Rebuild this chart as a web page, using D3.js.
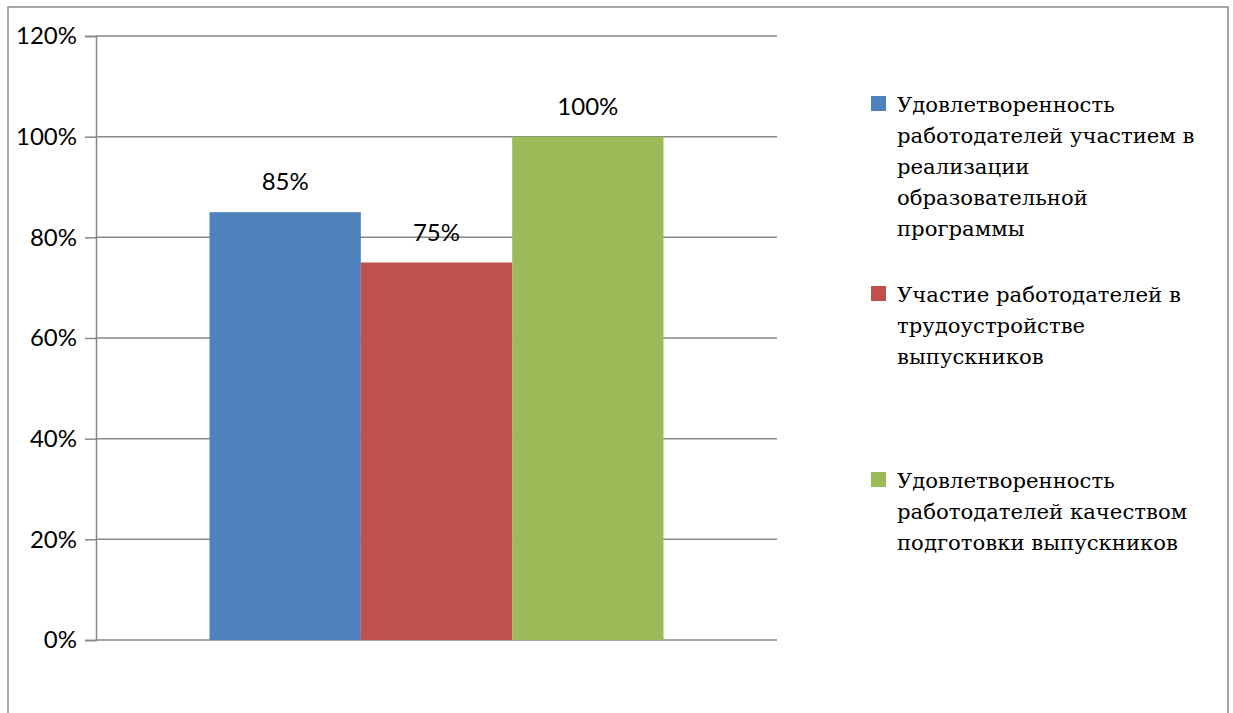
<!DOCTYPE html>
<html>
<head>
<meta charset="utf-8">
<script src="https://cdn.jsdelivr.net/npm/d3@7"></script>
<style>
  body { margin: 0; background: #fff; }
  svg { display: block; }
</style>
</head>
<body>
<svg width="1233" height="713"></svg>
<script>
  // data
  const seriesNames = [
    ['Удовлетворенность', 'работодателей участием в', 'реализации', 'образовательной', 'программы'],
    ['Участие работодателей в', 'трудоустройстве', 'выпускников'],
    ['Удовлетворенность', 'работодателей качеством', 'подготовки выпускников']
  ]
  const seriesValues = [0.85, 0.75, 1.00]
  const seriesColors = ['#4F81BD', '#C0504D', '#9BBB59']
  const yTicks = [0, 0.2, 0.4, 0.6, 0.8, 1.0, 1.2]

  const GRID = '#878787'
  const NUM_FONT = 'Lato, "Open Sans", sans-serif'
  const LEGEND_FONT = "'DejaVu Serif', 'Liberation Serif', serif"
  const svg = d3.select('svg')

  // outer frame
  svg.append('rect')
    .attr('x', 8).attr('y', 7)
    .attr('width', 1220).attr('height', 760)
    .attr('fill', 'none')
    .attr('stroke', '#8c8c8c')
    .attr('stroke-width', 1.5)

  const plot = { left: 96, right: 777, top: 36, bottom: 640 }

  const y = d3.scaleLinear().domain([0, 1.2]).range([plot.bottom, plot.top])
  const x0 = d3.scaleBand().domain(['']).range([plot.left, plot.right]).padding(0.2)
  const x1 = d3.scaleBand().domain(d3.range(seriesValues.length))
    .range([0, x0.bandwidth()]).padding(0)

  // gridlines
  svg.append('g').selectAll('line').data(yTicks).join('line')
    .attr('x1', plot.left).attr('x2', plot.right)
    .attr('y1', d => y(d)).attr('y2', d => y(d))
    .attr('stroke', GRID).attr('stroke-width', 1.5)

  // y axis
  const yAxis = svg.append('g')
    .attr('transform', `translate(${plot.left},0)`)
    .call(d3.axisLeft(y).tickValues(yTicks).tickFormat(d3.format('.0%')).tickSize(11).tickPadding(8))
  yAxis.select('.domain').attr('stroke', GRID).attr('stroke-width', 1.5)
  yAxis.selectAll('.tick line').attr('stroke', GRID).attr('stroke-width', 1.5)
  yAxis.selectAll('.tick text')
    .style('font-family', NUM_FONT)
    .style('font-size', '24px')
    .attr('fill', '#000')

  // bars
  const g = svg.append('g').attr('transform', `translate(${x0('')},0)`)
  g.selectAll('rect').data(seriesValues).join('rect')
    .attr('x', (d, i) => x1(i))
    .attr('y', d => y(d))
    .attr('width', x1.bandwidth())
    .attr('height', d => plot.bottom - y(d))
    .attr('fill', (d, i) => seriesColors[i])

  // data labels
  g.selectAll('text').data(seriesValues).join('text')
    .attr('x', (d, i) => x1(i) + x1.bandwidth() / 2)
    .attr('y', d => y(d) - 22)
    .attr('text-anchor', 'middle')
    .style('font-family', NUM_FONT)
    .style('font-size', '24px')
    .attr('fill', '#000')
    .text(d => d3.format('.0%')(d))

  // legend
  const legendTop = [112, 302, 488]
  const legend = svg.append('g')
  seriesNames.forEach((lines, i) => {
    const item = legend.append('g')
    item.append('rect')
      .attr('x', 871).attr('y', legendTop[i] - 16)
      .attr('width', 15).attr('height', 15)
      .attr('fill', seriesColors[i])
    item.append('text')
      .style('font-family', LEGEND_FONT)
      .style('font-size', '21.2px')
      .attr('fill', '#000')
      .selectAll('tspan').data(lines).join('tspan')
      .attr('x', 897)
      .attr('y', (d, j) => legendTop[i] + j * 31)
      .text(d => d)
  })
</script>
</body>
</html>
